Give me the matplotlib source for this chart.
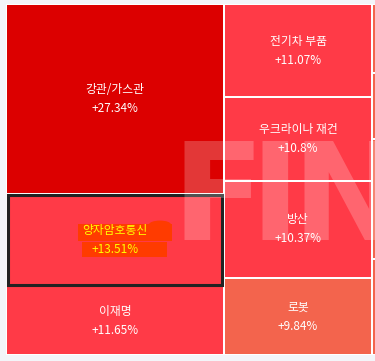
import matplotlib
matplotlib.use("Agg")
import matplotlib.pyplot as plt
from matplotlib.patches import Rectangle, Ellipse

plt.rcParams['font.family'] = ['Noto Sans CJK KR', 'DejaVu Sans']

# Theme heat map: tile area = weight, colour/label = daily change
themes = ['강관/가스관', '양자암호통신', '이재명', '전기차 부품', '우크라이나 재건', '방산', '로봇']
changes = [27.34, 13.51, 11.65, 11.07, 10.8, 10.37, 9.84]
weights = [414, 201, 150, 138, 124, 144, 114]
columns = [0, 0, 0, 1, 1, 1, 1]
highlighted = '양자암호통신'

# the next column of tiles (only its edge fits in the frame)
tail_weights = [83, 79, 144, 115]
tail_color = '#f3644d'

BG = '#f3f5f9'
H = 351.0          # plot height in px
UNIT = 100.0       # px^2 per weight unit
GAP = 1.0


def tile_color(v):
    if v >= 20:
        return '#dc0000'
    if v >= 10:
        return '#ff3a47'
    return '#f3644d'


# column-wise treemap layout
cols = {}
for i, c in enumerate(columns):
    cols.setdefault(c, []).append(i)

cells = {}
x0 = 0.0
for c in sorted(cols):
    idx = cols[c]
    w = sum(weights[i] for i in idx) * UNIT / H
    y = 0.0
    for i in idx:
        h = weights[i] * UNIT / w
        cells[i] = (x0, y, w, h)
        y += h
    x0 += w

tail_cells = []
w = sum(tail_weights) * UNIT / H
y = 0.0
for tw in tail_weights:
    h = tw * UNIT / w
    tail_cells.append((x0, y, w, h))
    y += h
total_w = x0 + w

fig = plt.figure(figsize=(3.75, 3.61), dpi=100, facecolor=BG)
ax = fig.add_axes([6 / 375, 6 / 361, total_w / 375, H / 361])
ax.set_xlim(0, total_w)
ax.set_ylim(H, 0)
ax.set_facecolor('white')
for s in ax.spines.values():
    s.set_visible(False)
ax.set_xticks([])
ax.set_yticks([])

for (x, y, w, h) in tail_cells:
    ax.add_patch(Rectangle((x + GAP, y + GAP), w - 2 * GAP, h - 2 * GAP,
                           facecolor=tail_color, edgecolor='none', zorder=1))

for i, name in enumerate(themes):
    x, y, w, h = cells[i]
    ax.add_patch(Rectangle((x + GAP, y + GAP), w - 2 * GAP, h - 2 * GAP,
                           facecolor=tile_color(changes[i]), edgecolor='none', zorder=1))
    cx, cy = x + w / 2, y + h / 2
    ny, vy = cy - 9.5, cy + 9.5
    label = f"+{changes[i]:g}%"
    color = 'white'
    if name == highlighted:
        color = '#ffff00'
        ax.add_patch(Rectangle((x + 1.5, y + 1.5), w - 3, h - 3, fill=False,
                               edgecolor='#222222', linewidth=2.2, zorder=3))
        ax.add_patch(Rectangle((cx - 37, ny - 7), 94, 17, facecolor='#ff3b00',
                               edgecolor='none', zorder=2))
        ax.add_patch(Ellipse((cx + 45, ny - 6), 22, 8, facecolor='#ff3b00',
                             edgecolor='none', zorder=2))
        ax.add_patch(Rectangle((cx - 33, vy - 8), 85, 15, facecolor='#ff3b00',
                               edgecolor='none', zorder=2))
    ax.text(cx, ny, name, ha='center', va='center', fontsize=8.5, color=color, zorder=4)
    ax.text(cx, vy, label, ha='center', va='center', fontsize=8.5, color=color, zorder=4)

# watermark
for ch, xl in zip('FIN', [166, 243, 286]):
    ax.text(xl, 236, ch, ha='left', va='baseline', fontsize=98, fontweight='bold',
            family='DejaVu Sans', color='white', alpha=0.22, zorder=5)

fig.savefig('out.png', dpi=100, facecolor=BG)
